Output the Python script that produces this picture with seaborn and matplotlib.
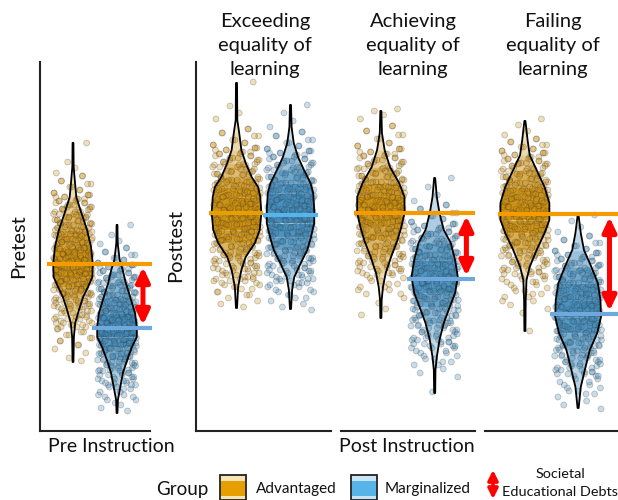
import pandas as pd
import matplotlib.pyplot as plt
from matplotlib.patches import FancyArrowPatch, Rectangle
import seaborn as sns

# jitter shared by all the groups, in category units
jitter = [.31,-.12,.05,-.38,.22,-.27,.41,-.03,.16,-.43,.35,-.19,.09,-.31,.27,-.07,.39,-.24,.13,-.41,
          .02,.33,-.15,.24,-.36,.11,-.29,.43,-.09,.19,-.34,.29,-.01,-.22,.37,-.42,.07,.15,-.17,.42,
          -.26,.21,-.05,.34,-.39,.12,-.32,.26,.03,-.13,.38,-.21,.17,-.44,.08,.30,-.10,-.35,.23,.40,
          -.28,.01,-.18,.36,-.40,.14,.28,-.06,-.33,.20,.44,-.14,.06,-.25,.32,-.37,.10,-.02,.25,-.30,
          .18,-.11,.41,-.23,.04,.35,-.16,-.42,.27,.12,-.08,.37,-.34,.22,-.20,.00,.31,-.38,.16,-.27,
          .43,-.04,.09,-.36,.24,-.15,.39,-.29,.13,-.41,.29,-.09,.19,-.31,.05,.34,-.24,.42,-.12,-.39,
          .07,.26,-.19,.38,-.43,.15,-.07,.33,-.26,.21]

# scores
pre_adv = [288,269,263,258,255,250,247,244,241,238,236,234,232,230,228,226,224,222,221,219,217,216,214,213,211,210,208,207,206,204,203,201,200,199,197,196,195,193,192,191,189,188,187,186,184,183,182,181,179,178,177,176,175,173,172,171,170,169,168,166,165,164,163,162,161,159,158,157,156,155,153,152,151,150,149,147,146,145,144,142,141,140,138,137,136,134,133,131,130,128,127,125,124,122,120,118,116,114,112,110,108,106,104,102,99,96,93,90,86,82,78,73,70]
pre_mar = [206,196,190,187,183,179,176,173,171,168,166,164,162,160,158,156,154,153,151,149,148,146,145,143,142,140,139,138,136,135,134,132,131,129,128,127,126,124,123,122,120,119,118,117,116,114,113,112,111,110,108,107,106,105,104,103,102,100,99,98,97,96,94,93,92,91,90,88,87,86,85,83,82,81,79,78,77,75,74,72,71,69,68,66,65,63,61,60,58,56,54,52,50,48,46,44,42,39,36,34,31,28,26,23,20]
exc_adv = [349,325,318,312,302,298,295,291,288,286,283,281,279,277,275,273,271,269,267,266,264,262,260,259,257,256,254,252,251,249,248,246,245,243,242,241,239,238,236,235,234,232,231,230,228,227,226,224,223,222,221,219,218,217,216,214,213,212,211,209,208,207,206,204,203,202,200,199,198,196,195,194,192,191,190,188,187,185,184,182,181,179,178,176,175,173,172,170,168,167,165,163,162,160,158,156,154,152,150,148,146,144,142,139,136,133,130,127,124]
exc_mar = [326,318,310,304,299,295,291,288,285,282,280,278,276,274,272,270,268,266,264,263,261,259,258,256,254,253,251,250,248,247,245,244,242,241,240,238,237,235,234,233,231,230,229,227,226,225,224,222,221,220,219,217,216,215,214,212,211,210,208,207,206,204,203,202,200,199,198,196,195,193,192,190,189,187,186,184,183,181,180,178,177,175,173,172,170,168,167,165,163,161,160,158,156,154,152,150,148,146,144,141,139,136,133,130,127,124,121]
ach_adv = [322,320,316,312,305,300,296,292,288,285,282,279,277,275,273,271,269,267,265,263,262,260,258,257,255,254,252,251,249,248,247,245,244,243,241,240,239,238,236,235,234,233,231,230,229,228,226,225,224,223,221,220,219,218,216,215,214,213,211,210,209,208,206,205,204,202,201,200,198,197,196,194,193,191,190,188,187,185,184,182,180,179,177,175,174,172,170,168,166,164,162,160,158,156,153,150,147,144,141,137,133,128,122,116]
ach_mar = [253,244,236,230,226,222,218,215,212,209,207,205,203,201,199,197,195,193,192,190,188,187,185,184,182,181,179,178,176,175,174,172,171,170,168,167,166,164,163,162,160,159,158,157,155,154,153,152,150,149,148,147,145,144,143,142,140,139,138,136,135,134,132,131,130,128,127,125,124,122,121,119,118,116,115,113,111,110,108,106,105,103,101,99,97,95,93,91,89,87,85,83,80,78,75,72,69,66,62,58,54,39]
fail_adv = [312,306,300,296,292,289,286,284,282,280,278,276,274,272,270,268,267,265,263,262,260,258,257,255,254,252,251,249,248,246,245,244,242,241,240,238,237,236,234,233,232,230,229,228,226,225,224,222,221,220,218,217,216,214,213,212,210,209,208,206,205,204,202,201,200,198,197,195,194,192,191,189,188,186,185,183,181,180,178,176,175,173,171,169,167,165,163,161,159,157,155,152,149,146,143,140,137,134,130,126,122,118,100]
fail_mar = [216,210,204,199,195,191,188,185,182,180,178,176,174,172,170,168,166,165,163,161,160,158,157,155,154,152,151,149,148,146,145,144,142,141,140,138,137,136,134,133,132,130,129,128,126,125,124,122,121,120,118,117,116,114,113,112,110,109,108,106,105,104,102,101,100,98,97,95,94,92,91,89,88,86,85,83,81,80,78,76,75,73,71,69,67,65,63,61,59,57,55,52,49,46,43,40,37,34,30,26,22]

# violin outlines: score and half width
pre_adv_vy = [288,264,251,234,218,201,184,167,154,144,134,121,108,94,69]
pre_adv_vw = [.01,.015,.04,.075,.19,.32,.41,.45,.44,.34,.23,.135,.05,.02,.01]
pre_mar_vy = [206,188,171,161,148,134,118,104,94,84,71,58,44,31,18]
pre_mar_vw = [.01,.015,.06,.13,.20,.30,.41,.45,.45,.34,.23,.135,.075,.02,.01]
exc_adv_vy = [348,311,298,281,268,254,244,234,218,201,188,174,161,144,123]
exc_adv_vw = [.01,.015,.05,.09,.17,.28,.40,.44,.46,.43,.34,.17,.09,.03,.01]
exc_mar_vy = [326,304,288,274,261,248,238,221,208,194,181,168,154,141,122]
exc_mar_vw = [.01,.02,.06,.14,.25,.37,.42,.44,.44,.38,.31,.19,.07,.03,.01]
ach_adv_vy = [320,298,281,264,248,234,218,204,191,174,158,144,131,113]
ach_adv_vw = [.01,.02,.07,.17,.34,.44,.44,.38,.31,.19,.09,.04,.015,.01]
ach_mar_vy = [253,234,218,201,188,171,154,138,124,108,91,74,61,38]
ach_mar_vw = [.01,.04,.09,.17,.30,.38,.43,.38,.28,.17,.09,.04,.015,.01]
fail_adv_vy = [310,291,276,261,244,228,211,198,181,164,151,131,100]
fail_adv_vw = [.01,.05,.09,.22,.37,.46,.46,.37,.22,.09,.03,.015,.01]
fail_mar_vy = [215,198,181,164,148,131,114,98,81,64,44,23]
fail_mar_vw = [.01,.05,.11,.25,.37,.42,.43,.36,.22,.14,.05,.01]

pre_means = [167, 103]
exc_means = [218, 216]
ach_means = [218, 152]
fail_means = [217, 117]

titles = ['Exceeding\nequality of\nlearning', 'Achieving\nequality of\nlearning', 'Failing\nequality of\nlearning']
group_names = ['Advantaged', 'Marginalized']

W, H = 618, 500
ADV = '#CC8C05'
MAR = '#3A88BA'
sns.set_theme(style='white')
plt.rcParams['font.family'] = ['Lato', 'DejaVu Sans']

fig = plt.figure(figsize=(W / 100, H / 100), dpi=100)


def px_axes(left, right, top=62, bottom=431):
    ax = fig.add_axes([left / W, 1 - bottom / H, (right - left) / W, (bottom - top) / H])
    ax.set_xlim(-0.75, 1.75)
    ax.set_ylim(0, 369)
    ax.set_xticks([])
    ax.set_yticks([])
    ax.patch.set_alpha(0)
    return ax


def draw_panel(ax, scores, outlines, means, line_cols, line_spans, left_spine=True, debt=True):
    frames = []
    # extra passes only over the middle of the scores, so the tails stay thin
    for i, s in enumerate(scores):
        passes = [(s, jitter), (s[4:-4], jitter[::-1]), (s[10:-10], jitter[43:] + jitter[:43])]
        for part, jit in passes:
            frames.append(pd.DataFrame({'x': [i + j for j in jit[:len(part)]], 'score': part, 'group': group_names[i]}))
    df = pd.concat(frames)

    # darker where the violin is wide
    for i, (vy, vw) in enumerate(outlines):
        col = [ADV, MAR][i]
        for k in range(len(vy) - 1):
            a = 0.2 + 1.7 * (vw[k] + vw[k + 1]) / 2
            ax.fill_betweenx(vy[k:k + 2], [i - w for w in vw[k:k + 2]], [i + w for w in vw[k:k + 2]],
                             color=col, alpha=min(a, 0.95), lw=0, zorder=1)

    sns.scatterplot(data=df, x='x', y='score', hue='group', palette={'Advantaged': ADV, 'Marginalized': MAR},
                    s=18, alpha=0.28, edgecolor='#333333', linewidth=0.6, legend=False, ax=ax, zorder=2, clip_on=False)

    for i, (vy, vw) in enumerate(outlines):
        ax.plot([i - w for w in vw] + [i + w for w in vw[::-1]], vy + vy[::-1], color='black', lw=1.3, zorder=3)

    for m, col, span in zip(means, line_cols, line_spans):
        ax.plot(span, [m, m], color=col, lw=3, zorder=4, clip_on=False, solid_capstyle='butt')

    if debt:
        ax.add_patch(FancyArrowPatch((1.59, means[0] - 3), (1.59, means[1] + 3),
                                     arrowstyle='<|-|>,head_length=0.85,head_width=0.4',
                                     mutation_scale=10, lw=3.6, color='red', zorder=5, shrinkA=0, shrinkB=0,
                                     clip_on=False))

    sns.despine(ax=ax, left=not left_spine)
    ax.spines['bottom'].set_linewidth(1.5)
    ax.spines['bottom'].set_color('#222222')
    ax.spines['left'].set_linewidth(1.5)
    ax.spines['left'].set_color('#222222')
    ax.set_xlabel('')
    ax.set_ylabel('')


ax1 = px_axes(40, 150)
draw_panel(ax1, [pre_adv, pre_mar], [(pre_adv_vy, pre_adv_vw), (pre_mar_vy, pre_mar_vw)], pre_means,
           ['#F59B00', '#6FA8DC'], [(-0.58, 1.8), (0.44, 1.8)])
ax2 = px_axes(196, 331)
draw_panel(ax2, [exc_adv, exc_mar], [(exc_adv_vy, exc_adv_vw), (exc_mar_vy, exc_mar_vw)], exc_means,
           ['#E69F00', '#56B4E9'], [(-0.51, 0.49), (0.49, 1.5)], debt=False)
ax3 = px_axes(340.5, 475)
draw_panel(ax3, [ach_adv, ach_mar], [(ach_adv_vy, ach_adv_vw), (ach_mar_vy, ach_mar_vw)], ach_means,
           ['#F59B00', '#6FA8DC'], [(-0.5, 1.75), (0.48, 1.75)], left_spine=False)
ax4 = px_axes(485, 618)
draw_panel(ax4, [fail_adv, fail_mar], [(fail_adv_vy, fail_adv_vw), (fail_mar_vy, fail_mar_vw)], fail_means,
           ['#F59B00', '#6FA8DC'], [(-0.5, 1.75), (0.48, 1.75)], left_spine=False)


def ftext(x, y, s, size=14, **kw):
    kw.setdefault('ha', 'center')
    kw.setdefault('va', 'center')
    fig.text(x / W, 1 - y / H, s, fontsize=size, color='#111111', **kw)


for cx, t in zip([265, 413, 553], titles):
    ftext(cx, 45, t, size=14.5, linespacing=1.5)
ftext(19, 246, 'Pretest', size=14.5, rotation=90)
ftext(176, 246, 'Posttest', size=14.5, rotation=90)
ftext(111, 446, 'Pre Instruction')
ftext(407, 446, 'Post Instruction')
ftext(182, 489, 'Group', size=13.5)
ftext(296, 489, 'Advantaged', size=11)
ftext(428, 489, 'Marginalized', size=11)
ftext(560, 483, 'Societal\nEducational Debts', size=10.4, linespacing=1.5)

# legend keys
for x0, col, light in [(220, '#E69F00', '#F8E3B5'), (350.5, '#56B4E9', '#C9E4F6')]:
    fig.add_artist(Rectangle((x0 / W, 0), 26 / W, 25 / H, transform=fig.transFigure, fc=light, ec='#222222', lw=1.3))
    fig.add_artist(Rectangle((x0 / W + 1 / W, 1 - 496 / H), 24 / W, 15 / H, transform=fig.transFigure, fc=col, ec='none'))
fig.add_artist(FancyArrowPatch((493 / W, 1 - 470 / H), (493 / W, 1 - 499 / H), transform=fig.transFigure,
                               arrowstyle='<|-|>,head_length=0.58,head_width=0.29', mutation_scale=10, lw=2.6,
                               color='red', shrinkA=0, shrinkB=0))

fig.savefig('out.png', dpi=100)
